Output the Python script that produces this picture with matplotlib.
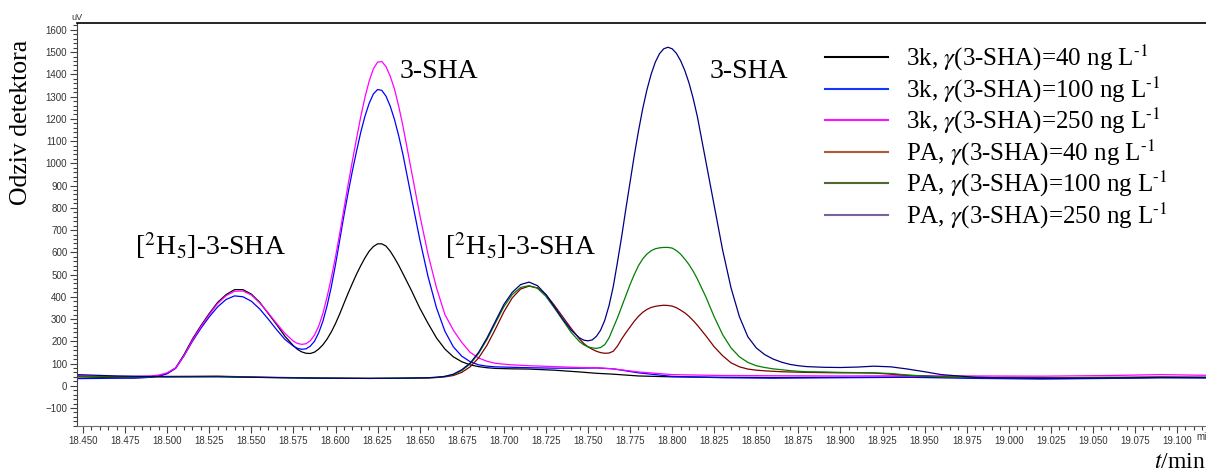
import matplotlib.pyplot as plt
from matplotlib.lines import Line2D
from matplotlib.ticker import MultipleLocator, FormatStrFormatter

plt.rcParams['mathtext.fontset'] = 'stix'

# vremena (min) i odzivi (uV) ocitani s kromatograma
t_3k = [18.446, 18.46, 18.47, 18.48, 18.49, 18.495, 18.500, 18.505, 18.510, 18.515,
        18.520, 18.525, 18.530, 18.535, 18.540, 18.545, 18.550, 18.555, 18.560, 18.565,
        18.570, 18.575, 18.5775, 18.580, 18.5825, 18.585, 18.5875, 18.590, 18.5925, 18.595,
        18.5975, 18.600, 18.6025, 18.605, 18.6075, 18.610, 18.6125, 18.615, 18.6175, 18.620,
        18.6225, 18.625, 18.6275, 18.630, 18.6325, 18.635, 18.6375, 18.640, 18.645, 18.650,
        18.655, 18.660, 18.665, 18.670, 18.675, 18.680, 18.685, 18.690, 18.695, 18.700,
        18.705, 18.715, 18.73, 18.745, 18.755, 18.765, 18.78, 18.80, 18.83, 18.86,
        18.90, 18.94, 18.98, 19.02, 19.06, 19.09, 19.117]
k3_40 = [42, 38, 36, 35, 38, 44, 56, 80, 140, 210,
         270, 325, 375, 410, 432, 432, 412, 375, 325, 275,
         222, 180, 163, 152, 146, 145, 151, 165, 184, 210,
         242, 280, 323, 370, 416, 460, 502, 540, 575, 605,
         626, 638, 638, 628, 605, 575, 542, 505, 430, 350,
         280, 215, 165, 130, 108, 94, 86, 81, 78, 77,
         76, 75, 70, 62, 56, 52, 44, 40, 38, 37,
         38, 39, 37, 35, 36, 38, 37]
k3_100 = [32, 33, 34, 35, 38, 43, 54, 78, 135, 200,
          258, 310, 355, 388, 404, 400, 380, 345, 300, 252,
          208, 178, 168, 164, 166, 178, 200, 238, 290, 360,
          445, 545, 655, 765, 868, 965, 1055, 1140, 1212, 1270,
          1312, 1332, 1328, 1302, 1257, 1198, 1125, 1042, 850, 660,
          490, 350, 245, 175, 133, 108, 94, 88, 85, 84,
          83, 81, 79, 79, 80, 76, 58, 42, 36, 34,
          36, 38, 33, 30, 33, 36, 35]
k3_250 = [45, 43, 42, 42, 44, 48, 58, 80, 135, 205,
          265, 320, 370, 405, 425, 426, 408, 372, 328, 280,
          235, 200, 190, 186, 189, 202, 228, 268, 325, 400,
          485, 580, 685, 795, 905, 1010, 1112, 1210, 1297, 1370,
          1425, 1455, 1458, 1435, 1392, 1335, 1258, 1170, 970, 770,
          590, 440, 320, 250, 195, 150, 125, 110, 101, 97,
          94, 90, 86, 82, 81, 76, 62, 50, 46, 45,
          44, 45, 44, 43, 46, 50, 47]

t_pa = [18.446, 18.47, 18.50, 18.53, 18.56, 18.59, 18.62, 18.64, 18.655, 18.66,
        18.665, 18.670, 18.675, 18.680, 18.685, 18.690, 18.695, 18.700, 18.705, 18.710,
        18.715, 18.720, 18.725, 18.730, 18.735, 18.740, 18.745, 18.7475, 18.750, 18.7525,
        18.755, 18.7575, 18.760, 18.7625, 18.765, 18.7675, 18.770, 18.7725, 18.775, 18.7775,
        18.780, 18.7825, 18.785, 18.7875, 18.790, 18.7925, 18.795, 18.7975, 18.800, 18.8025,
        18.805, 18.8075, 18.810, 18.8125, 18.815, 18.820, 18.825, 18.830, 18.835, 18.840,
        18.845, 18.850, 18.855, 18.860, 18.865, 18.870, 18.875, 18.880, 18.89, 18.90,
        18.91, 18.92, 18.93, 18.94, 18.95, 18.96, 18.97, 18.98, 19.00, 19.03,
        19.06, 19.09, 19.117]
pa_40 = [40, 40, 42, 43, 38, 35, 33, 34, 35, 37,
         40, 46, 60, 85, 125, 182, 255, 332, 395, 435,
         448, 440, 410, 362, 310, 258, 210, 190, 175, 164,
         155, 149, 146, 147, 155, 178, 210, 238, 264, 290,
         312, 330, 343, 352, 357, 360, 362, 361, 358, 351,
         340, 328, 312, 293, 272, 225, 175, 135, 103, 85,
         75, 70, 67, 65, 63, 62, 61, 60, 59, 58,
         58, 57, 52, 47, 43, 40, 38, 37, 37, 36,
         38, 39, 38]
pa_100 = [42, 40, 40, 42, 37, 34, 33, 34, 36, 38,
          42, 50, 68, 98, 145, 208, 282, 355, 410, 442,
          450, 438, 402, 350, 295, 240, 198, 184, 175, 170,
          168, 172, 185, 215, 260, 305, 355, 405, 455, 500,
          540, 570, 592, 607, 616, 620, 622, 622, 619, 608,
          592, 570, 545, 515, 480, 400, 310, 230, 170, 130,
          105, 90, 82, 76, 72, 68, 65, 63, 62, 60,
          59, 58, 55, 48, 44, 40, 38, 37, 36, 35,
          36, 37, 37]
pa_250 = [50, 44, 40, 40, 37, 34, 33, 34, 36, 38,
          42, 52, 72, 102, 150, 215, 290, 365, 420, 455,
          466, 450, 410, 355, 300, 250, 215, 205, 202, 206,
          222, 250, 295, 360, 445, 555, 670, 795, 915, 1035,
          1145, 1245, 1330, 1400, 1455, 1493, 1515, 1522, 1515, 1495,
          1462, 1418, 1362, 1292, 1210, 1010, 810, 610, 440, 310,
          220, 170, 140, 120, 106, 96, 90, 86, 83, 82,
          84, 88, 85, 75, 63, 50, 44, 38, 35, 33,
          35, 37, 37]

labels = ['3k, $\\gamma$(3-SHA)=40 ng L$^{\\text{-1}}$',
          '3k, $\\gamma$(3-SHA)=100 ng L$^{\\text{-1}}$',
          '3k, $\\gamma$(3-SHA)=250 ng L$^{\\text{-1}}$',
          'PA, $\\gamma$(3-SHA)=40 ng L$^{\\text{-1}}$',
          'PA, $\\gamma$(3-SHA)=100 ng L$^{\\text{-1}}$',
          'PA, $\\gamma$(3-SHA)=250 ng L$^{\\text{-1}}$']
line_colors = ['#000000', '#0000ff', '#ff00ff', '#800000', '#008000', '#000080']
legend_colors = ['#000000', '#1038ff', '#ff10ff', '#b05a32', '#506a32', '#7a62a0']

W, H = 1206, 475
fig = plt.figure(figsize=(W / 100, H / 100), dpi=100)
ax = fig.add_axes([77 / W, 1 - 426 / H, (W - 77) / W, (426 - 23) / H])

series = [(t_3k, k3_40), (t_3k, k3_100), (t_3k, k3_250),
          (t_pa, pa_40), (t_pa, pa_100), (t_pa, pa_250)]
for (t, y), c in zip(series, line_colors):
    ax.plot(t, y, color=c, lw=0.9)

ax.set_xlim(18.4464, 19.1172)
ax.set_ylim(-181, 1631)

# osi u stilu kromatografskog softvera
ax.xaxis.set_major_locator(MultipleLocator(0.025))
ax.xaxis.set_minor_locator(MultipleLocator(0.005))
ax.xaxis.set_major_formatter(FormatStrFormatter('%.3f'))
ax.yaxis.set_major_locator(MultipleLocator(100))
ax.yaxis.set_minor_locator(MultipleLocator(20))
ax.tick_params(axis='both', which='major', direction='out', length=5, width=0.8,
               color='#404040', labelsize=7, labelcolor='#333333', pad=2)
ax.tick_params(axis='both', which='minor', direction='out', length=3, width=0.8,
               color='#404040')
for lab in ax.get_xticklabels() + ax.get_yticklabels():
    lab.set_family('Liberation Sans')
ax.spines['right'].set_visible(False)
ax.spines['top'].set_linewidth(1.2)
ax.spines['left'].set_color('#404040')
ax.spines['bottom'].set_color('#707070')

fig.text(77 / W, 1 - 17 / H, 'uV', fontsize=6.5, family='Liberation Sans',
         color='#333333', ha='center', va='center')
fig.text(1196 / W, 1 - 437 / H, 'mi', fontsize=7, family='Liberation Sans',
         color='#333333', ha='left', va='center')

serif = 'Liberation Serif'
fig.text(21 / W, 1 - 122 / H, 'Odziv detektora', rotation=90, fontsize=18.5,
         family=serif, ha='center', va='center')
fig.text(1206 / W, 1 - 462 / H, '$t$/min', fontsize=17, family=serif,
         ha='right', va='center')

ax.annotate('[$^{2}$H$_{5}$]-3-SHA', xy=(135, H - 255), xycoords='figure pixels',
            fontsize=20, family=serif, ha='left', va='baseline')
ax.annotate('[$^{2}$H$_{5}$]-3-SHA', xy=(445, H - 255), xycoords='figure pixels',
            fontsize=20, family=serif, ha='left', va='baseline')
ax.annotate('3-SHA', xy=(400, H - 78), xycoords='figure pixels',
            fontsize=20, family=serif, ha='left', va='baseline')
ax.annotate('3-SHA', xy=(710, H - 78), xycoords='figure pixels',
            fontsize=20, family=serif, ha='left', va='baseline')

handles = [Line2D([], [], color=c, lw=1.5) for c in legend_colors]
leg = ax.legend(handles, labels, loc='upper left', bbox_to_anchor=(825 / W, 1 - 43 / H),
                bbox_transform=fig.transFigure, frameon=False,
                prop={'family': serif, 'size': 18}, handlelength=2.5,
                handletextpad=0.75, labelspacing=0.05, borderpad=0, borderaxespad=0)

fig.savefig('out.png', dpi=100)
